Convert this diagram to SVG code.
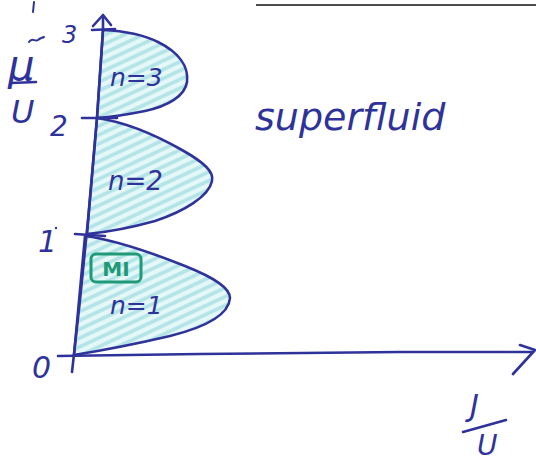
<svg xmlns="http://www.w3.org/2000/svg" width="536" height="462" viewBox="0 0 536 462">
<style>
.ink{fill:none;stroke:#2f3399;stroke-width:2.6;stroke-linecap:round;stroke-linejoin:round}
.thin{fill:none;stroke:#2f3399;stroke-width:2;stroke-linecap:round}
.lobe{fill:url(#hatch);stroke:#2f3399;stroke-width:2.6;stroke-linejoin:round}
.t{font-family:"DejaVu Sans","Liberation Sans",sans-serif;fill:#2f3399;font-style:oblique}
.mi{font-family:"DejaVu Sans","Liberation Sans",sans-serif;fill:#1e9a78;font-weight:bold}
</style>
<defs>
<pattern id="hatch" width="8" height="8" patternUnits="userSpaceOnUse" patternTransform="rotate(-25)">
<rect width="8" height="8" fill="#e6f7f7"/>
<line x1="0" y1="4" x2="8" y2="4" stroke="#b0e4e6" stroke-width="3.5"/>
</pattern>
</defs>
<rect width="536" height="462" fill="#ffffff"/>
<line x1="256" y1="5" x2="536" y2="5" stroke="#111" stroke-width="1.5"/>
<g id="lobe3">
<path class="lobe" d="M103,30 C125,31 142,34 158,42 C178,52 189,66 187,82 C185,96 168,106 145,111 C125,115 110,117 97,118 Z"/>
</g>
<g id="lobe2">
<path class="lobe" d="M97,118 C125,122 152,133 182,150 C205,163 214,172 212,181 C209,196 185,211 155,221 C130,228 108,232 87,234 Z"/>
</g>
<g id="lobe1">
<path class="lobe" d="M85,236 C115,240 150,252 185,266 C215,278 230,288 230,298 C229,313 210,326 170,336 C140,343 105,350 74,355 Z"/>
</g>
<g id="connectors">
<path class="ink" d="M72,372 L80,300 L88,220 L97,118 L103,30 L103,16"/>
<path class="ink" d="M93,26 L103,15 L111,25"/>
<path class="ink" d="M58,356 L200,354 L400,352 L532,352"/>
<path class="ink" d="M520,345 L535,350 L513,374"/>
<path class="ink" d="M92,30 L115,29"/>
<path class="ink" d="M82,118 L117,118"/>
<path class="ink" d="M75,234 L105,236"/>
</g>
<g id="ticks-labels">
<text class="t" x="62" y="43" font-size="24">3</text>
<text class="t" x="50" y="136" font-size="28">2</text>
<text class="t" x="38" y="252" font-size="30">1</text>
<circle cx="56" cy="228" r="1.2" fill="#2f3399"/>
<text class="t" x="32" y="378" font-size="30">0</text>
</g>
<g id="ylabel">
<path class="thin" d="M34,2 L33,12"/>
<text class="t" x="8" y="80" font-size="42">μ</text>
<path class="thin" d="M29,42 C32,37 35,42 38,40 C40,38 42,38 44,37"/>
<path class="ink" d="M11,83 L36,82"/>
<text class="t" x="11" y="123" font-size="32" font-style="normal">U</text>
</g>
<g id="n3"><text class="t" x="110" y="86" font-size="25">n=3</text></g>
<g id="n2"><text class="t" x="108" y="190" font-size="26">n=2</text></g>
<g id="mi">
<rect x="91" y="254" width="50" height="28" rx="5" fill="none" stroke="#1e9a78" stroke-width="3"/>
<text class="mi" x="116" y="276" font-size="20" text-anchor="middle">MI</text>
</g>
<g id="n1"><text class="t" x="110" y="314" font-size="25">n=1</text></g>
<g id="superfluid"><text class="t" x="255" y="130" font-size="38">superfluid</text></g>
<g id="xlabel">
<text class="t" x="470" y="416" font-size="30">J</text>
<path class="ink" d="M463,432 L506,420"/>
<text class="t" x="477" y="455" font-size="28" font-style="normal">U</text>
</g>
</svg>
